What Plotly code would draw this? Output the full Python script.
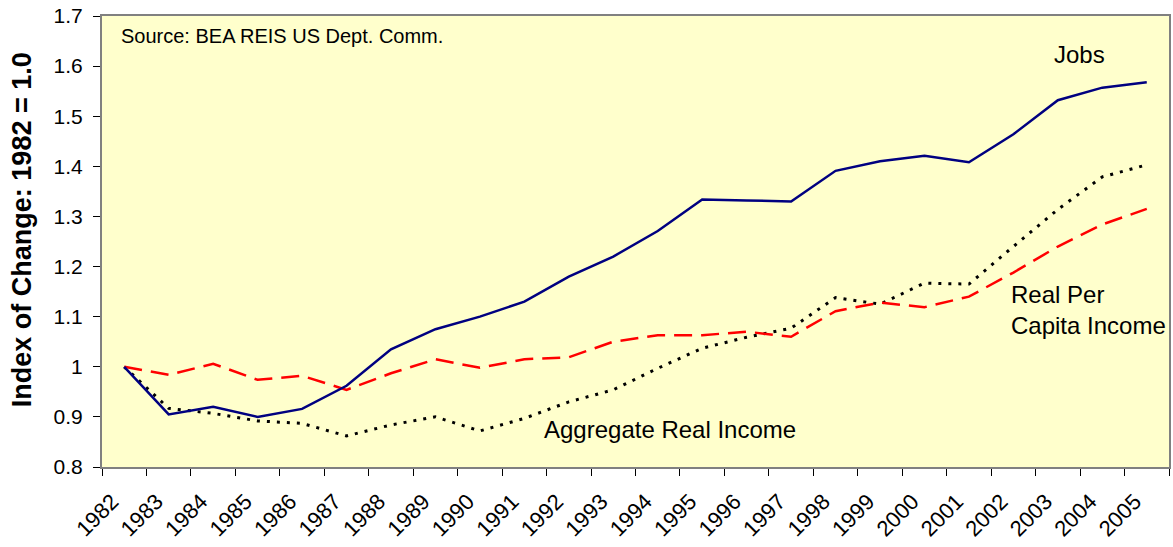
import plotly.graph_objects as go

years = [str(y) for y in range(1982, 2006)]
jobs = [1.000, 0.905, 0.920, 0.900, 0.916, 0.962, 1.035, 1.075, 1.100, 1.130, 1.180, 1.220,
        1.271, 1.334, 1.332, 1.330, 1.391, 1.410, 1.421, 1.408, 1.464, 1.532, 1.557, 1.568]
real_per_capita = [1.000, 0.984, 1.006, 0.974, 0.982, 0.954, 0.987, 1.015, 0.998, 1.015, 1.019, 1.050,
                   1.063, 1.063, 1.070, 1.060, 1.111, 1.128, 1.119, 1.140, 1.188, 1.240, 1.284, 1.315]
aggregate = [1.000, 0.917, 0.907, 0.892, 0.887, 0.862, 0.884, 0.900, 0.872, 0.897, 0.930, 0.954,
             0.997, 1.037, 1.059, 1.077, 1.138, 1.125, 1.167, 1.165, 1.240, 1.314, 1.379, 1.403]

FONT = "Liberation Sans, Arial, sans-serif"

fig = go.Figure()
fig.add_trace(go.Scatter(x=years, y=aggregate, mode="lines",
                         line=dict(color="#000000", width=3, dash="3px,7px"), name="Aggregate Real Income"))
fig.add_trace(go.Scatter(x=years, y=real_per_capita, mode="lines",
                         line=dict(color="#FF0000", width=2.5, dash="18px,9px"), name="Real Per Capita Income"))
fig.add_trace(go.Scatter(x=years, y=jobs, mode="lines",
                         line=dict(color="#000080", width=2.5), name="Jobs"))

W, H = 1173, 547
L, R, T, B = 102, 2, 16, 80
pw, ph = W - L - R, H - T - B


def px(x):
    return (x - L) / pw


def py(y):
    return (H - B - y) / ph


fig.update_layout(
    width=W, height=H,
    margin=dict(l=L, r=R, t=T, b=B),
    paper_bgcolor="white",
    plot_bgcolor="#FFFFCC",
    showlegend=False,
    font=dict(family=FONT, color="#000000"),
    xaxis=dict(
        type="category", tickson="boundaries", ticks="outside", ticklen=7,
        tickcolor="#000000", tickwidth=1, tickangle=-45,
        tickfont=dict(size=22, family=FONT), ticklabelshift=-12, ticklabelstandoff=11,
        showline=True, linecolor="#808080", linewidth=2, mirror=True,
        showgrid=False, zeroline=False, range=[-0.5, 23.5],
    ),
    yaxis=dict(
        range=[0.8, 1.7], tick0=0.8, dtick=0.1, ticks="outside", ticklen=7,
        tickcolor="#000000", tickwidth=1, tickfont=dict(size=21, family=FONT),
        ticklabelstandoff=6, ticklabeloverflow="allow",
        showline=True, linecolor="#808080", linewidth=2, mirror=True,
        showgrid=False, zeroline=False,
    ),
    annotations=[
        dict(text="Source: BEA REIS US Dept. Comm.", xref="paper", yref="paper",
             x=px(119), y=py(36), xanchor="left", yanchor="middle", showarrow=False,
             font=dict(size=20, family=FONT)),
        dict(text="Jobs", xref="paper", yref="paper", x=px(1081), y=py(55),
             xanchor="center", yanchor="middle", showarrow=False, font=dict(size=24, family=FONT)),
        dict(text="Real Per<br>Capita Income", xref="paper", yref="paper", x=px(1011), y=py(310),
             xanchor="left", yanchor="middle", align="left", showarrow=False,
             font=dict(size=24, family=FONT)),
        dict(text="Aggregate Real Income", xref="paper", yref="paper", x=px(543), y=py(429),
             xanchor="left", yanchor="middle", showarrow=False, font=dict(size=24, family=FONT)),
        dict(text="<b>Index of Change: 1982 = 1.0</b>", xref="paper", yref="paper",
             x=px(22), y=py(230), xanchor="center", yanchor="middle", textangle=-90,
             showarrow=False, font=dict(size=27, family=FONT)),
    ],
)

fig.write_html(
    "out.html",
    config={"displayModeBar": False},
    post_script="document.body.style.margin='0';document.body.style.overflow='hidden';",
)
